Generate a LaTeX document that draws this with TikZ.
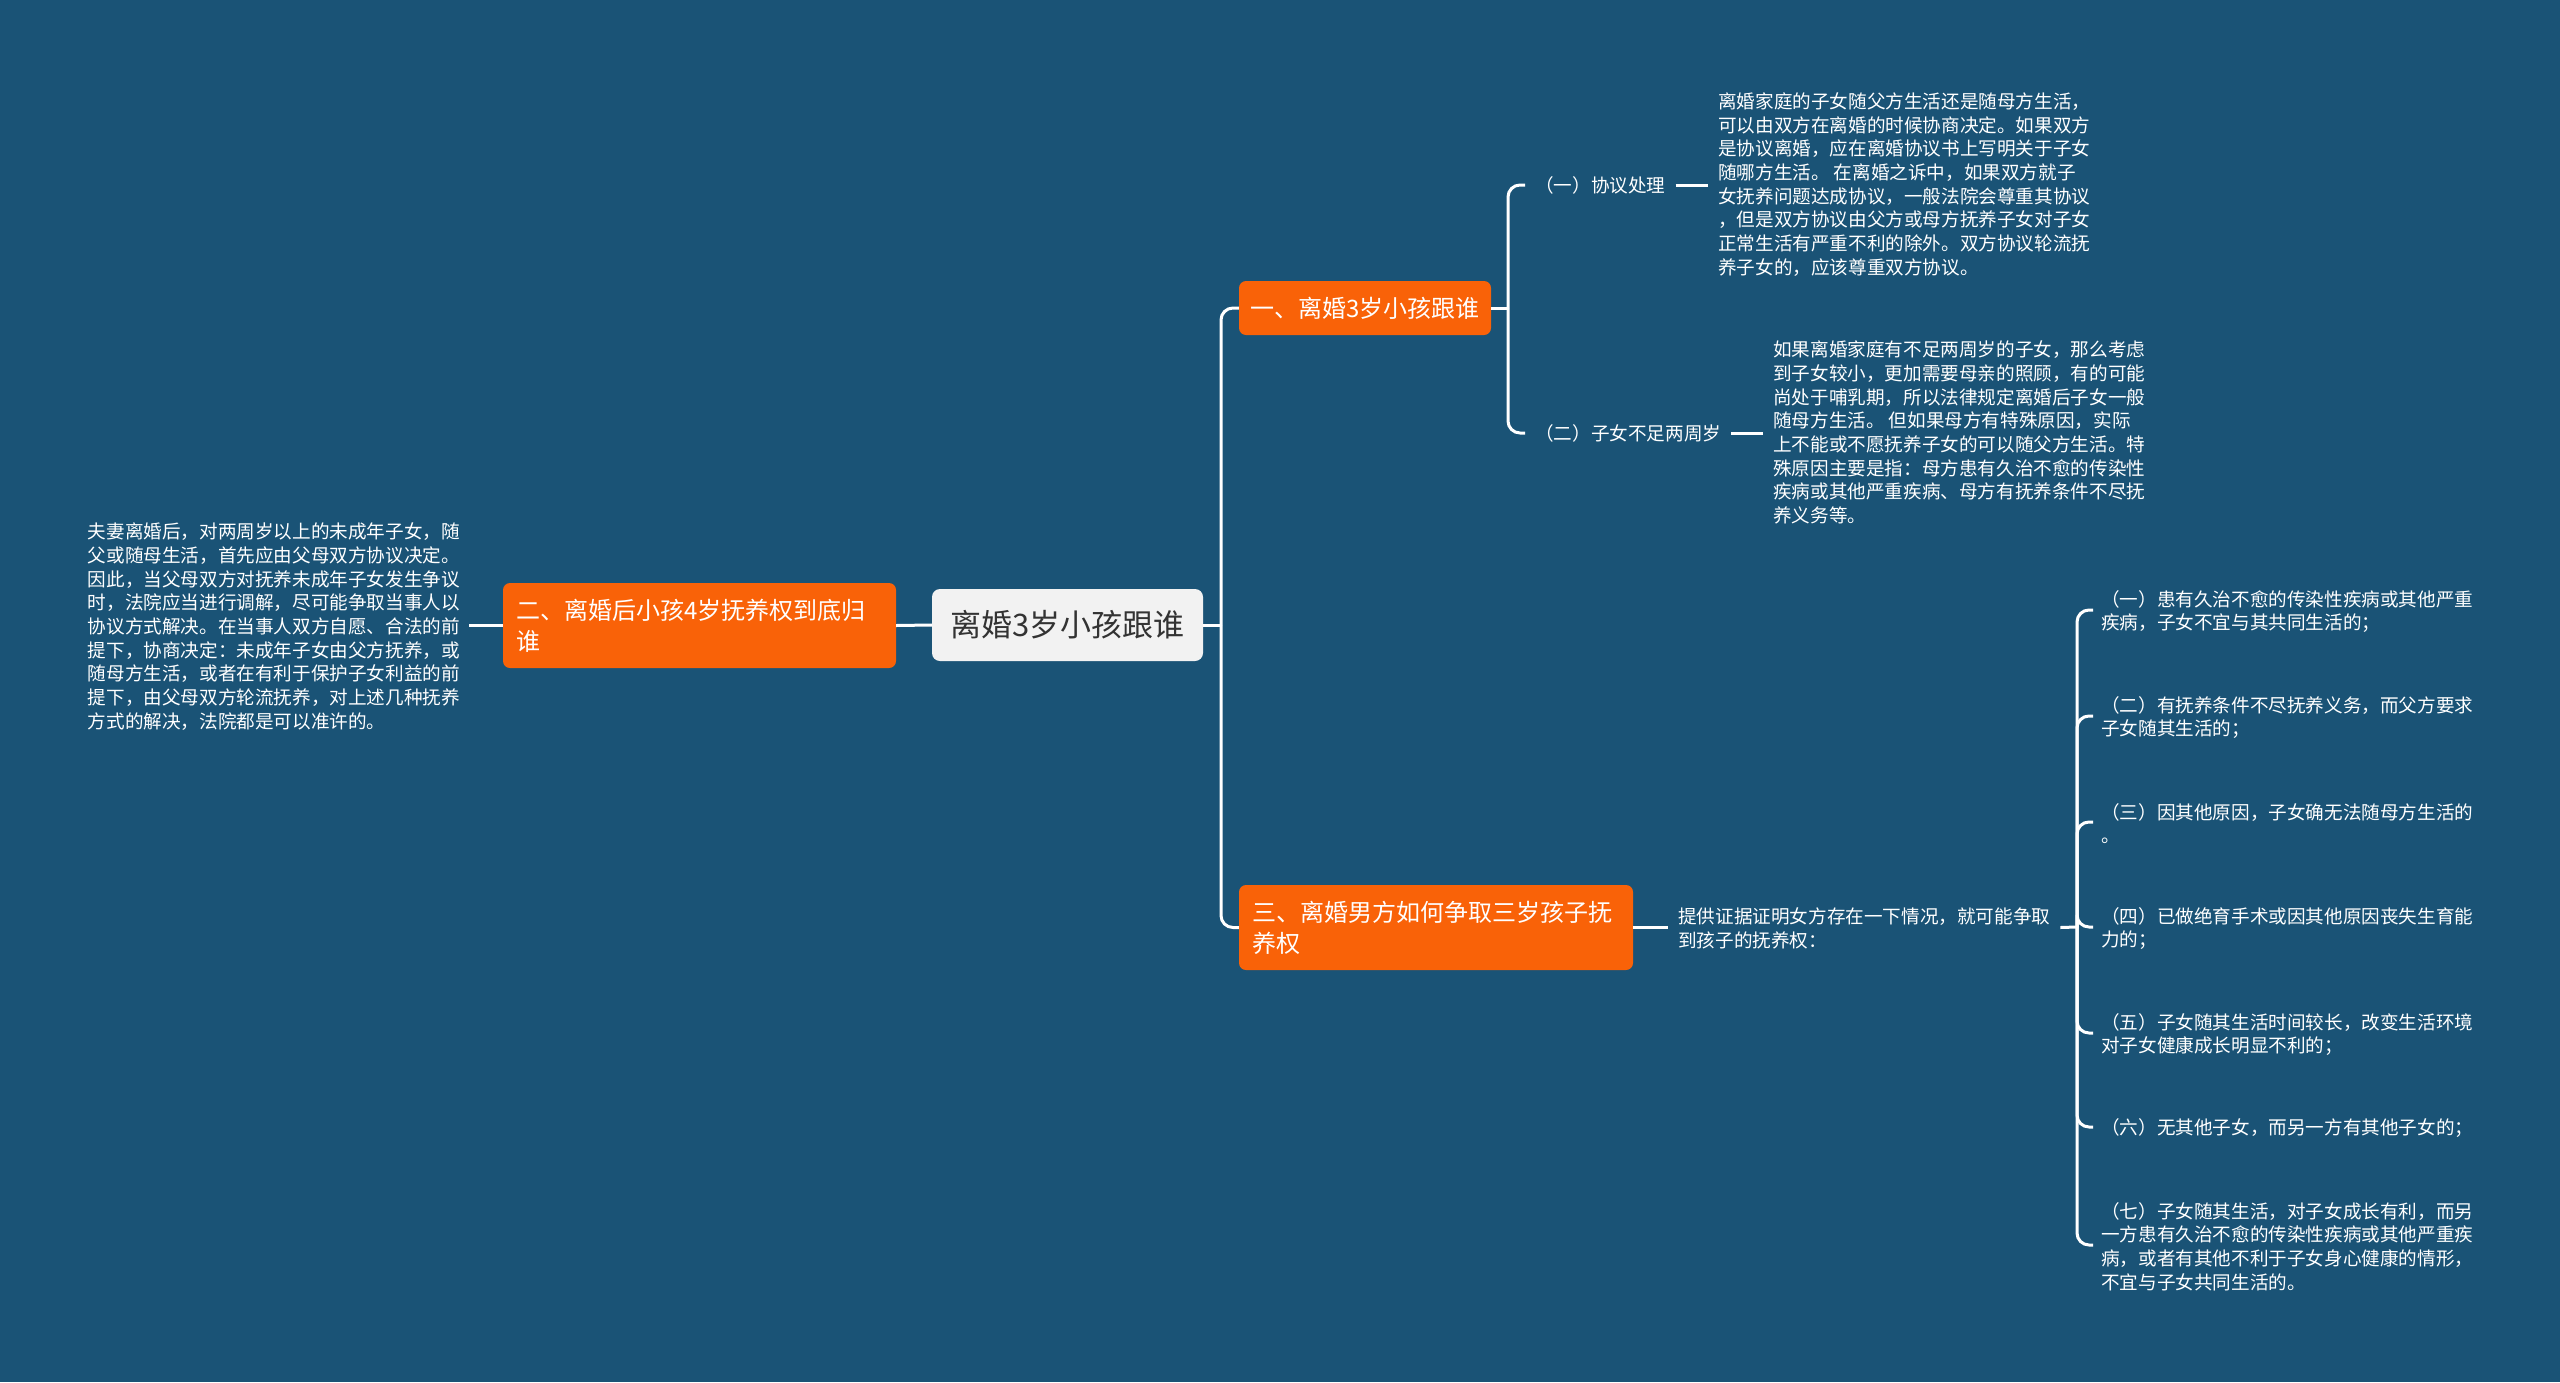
\documentclass[tikz,border=0pt]{standalone}
\usepackage{fontspec}
\setmainfont{Noto Sans CJK SC}
\definecolor{bgblue}{RGB}{26,83,118}
\definecolor{topicorange}{RGB}{249,98,8}
\definecolor{rootgray}{RGB}{242,242,242}
\definecolor{rootdark}{RGB}{51,51,51}
\tikzset{
  conn/.style={draw=white, line width=3pt, rounded corners=12pt},
  rootbox/.style={fill=rootgray, rounded corners=8pt, text=rootdark, font=\fontsize{31pt}{36pt}\selectfont, minimum width=271pt, minimum height=72pt, inner sep=0pt},
  topic/.style={fill=topicorange, rounded corners=7pt, text=white, font=\fontsize{24pt}{31pt}\selectfont, align=left, inner xsep=13pt, inner ysep=0pt},
  leaf/.style={text=white, font=\fontsize{18.6pt}{23.7pt}\selectfont, align=left, inner ysep=0pt},
}
\begin{document}
\begin{tikzpicture}[x=1pt,y=-1pt]
\fill[bgblue] (0,0) rectangle (2560,1382);
\useasboundingbox (0,0) rectangle (2560,1382);

% root
\node[rootbox] (root) at (1067.5,625) {离婚3岁小孩跟谁};

% main topics
\node[topic, text width=230pt, inner xsep=11pt, minimum height=54pt] (b1) at (1365,308) {一、离婚3岁小孩跟谁};
\node[topic, text width=367pt, minimum height=85pt] (b2) at (699.5,625.5) {二、离婚后小孩4岁抚养权到底归\\谁};
\node[topic, text width=368pt, minimum height=85pt] (b3) at (1436,927.5) {三、离婚男方如何争取三岁孩子抚\\养权};

% left branch text
\node[leaf, anchor=east, inner xsep=9pt] (t2) at (469,626.5) {夫妻离婚后，对两周岁以上的未成年子女，随\\父或随母生活，首先应由父母双方协议决定。\\因此，当父母双方对抚养未成年子女发生争议\\时，法院应当进行调解，尽可能争取当事人以\\协议方式解决。在当事人双方自愿、合法的前\\提下，协商决定：未成年子女由父方抚养，或\\随母方生活，或者在有利于保护子女利益的前\\提下，由父母双方轮流抚养，对上述几种抚养\\方式的解决，法院都是可以准许的。};

% branch 1 children
\node[leaf, anchor=west, inner xsep=10pt] (c1) at (1525,185) {（一）协议处理};
\node[leaf, anchor=west, inner xsep=10pt] (c2) at (1525,433) {（二）子女不足两周岁};
\node[leaf, anchor=west, inner xsep=10pt] (t11) at (1708,184.5) {离婚家庭的子女随父方生活还是随母方生活，\\可以由双方在离婚的时候协商决定。如果双方\\是协议离婚，应在离婚协议书上写明关于子女\\随哪方生活。 在离婚之诉中，如果双方就子\\女抚养问题达成协议，一般法院会尊重其协议\\，但是双方协议由父方或母方抚养子女对子女\\正常生活有严重不利的除外。双方协议轮流抚\\养子女的，应该尊重双方协议。};
\node[leaf, anchor=west, inner xsep=10pt] (t12) at (1763,432.5) {如果离婚家庭有不足两周岁的子女，那么考虑\\到子女较小，更加需要母亲的照顾，有的可能\\尚处于哺乳期，所以法律规定离婚后子女一般\\随母方生活。 但如果母方有特殊原因，实际\\上不能或不愿抚养子女的可以随父方生活。特\\殊原因主要是指：母方患有久治不愈的传染性\\疾病或其他严重疾病、母方有抚养条件不尽抚\\养义务等。};

% branch 3 children
\node[leaf, anchor=west, inner xsep=10pt] (t3) at (1668,928.5) {提供证据证明女方存在一下情况，就可能争取\\到孩子的抚养权：};
\node[leaf, anchor=west, inner xsep=8pt] (d1) at (2093,611.5) {（一）患有久治不愈的传染性疾病或其他严重\\疾病，子女不宜与其共同生活的；};
\node[leaf, anchor=west, inner xsep=8pt] (d2) at (2093,717.5) {（二）有抚养条件不尽抚养义务，而父方要求\\子女随其生活的；};
\node[leaf, anchor=west, inner xsep=8pt] (d3) at (2093,823.5) {（三）因其他原因，子女确无法随母方生活的\\。};
\node[leaf, anchor=west, inner xsep=8pt] (d4) at (2093,928.5) {（四）已做绝育手术或因其他原因丧失生育能\\力的；};
\node[leaf, anchor=west, inner xsep=8pt] (d5) at (2093,1034.5) {（五）子女随其生活时间较长，改变生活环境\\对子女健康成长明显不利的；};
\node[leaf, anchor=west, inner xsep=8pt] (d6) at (2093,1128.5) {（六）无其他子女，而另一方有其他子女的；};
\node[leaf, anchor=west, inner xsep=8pt] (d7) at (2093,1246.5) {（七）子女随其生活，对子女成长有利，而另\\一方患有久治不愈的传染性疾病或其他严重疾\\病，或者有其他不利于子女身心健康的情形，\\不宜与子女共同生活的。};

% junction coordinates
\coordinate (jr) at (1221,625);
\coordinate (j1) at (1508,308);
\coordinate (j3) at (2077,927);

% connectors
\draw[conn] (root.west) -- (b2.east);
\draw[conn] (b2.west) -- (b2.west -| t2.east);
\draw[conn] (root.east) -- (jr);
\draw[conn] (jr) |- (b1.west);
\draw[conn] (jr) |- (b3.west);

\draw[conn] (b1.east) -- (j1);
\draw[conn] (j1) |- (c1.west);
\draw[conn] (j1) |- (c2.west);
\draw[conn] (c1.east) -- (c1.east -| t11.west);
\draw[conn] (c2.east) -- (c2.east -| t12.west);

\draw[conn] (b3.east) -- (b3.east -| t3.west);
\draw[conn] (b3.east -| t3.east) -- (j3);
\foreach \d/\y in {d1/610,d2/716,d3/822,d4/927,d5/1033,d6/1127,d7/1245}{
  \draw[conn] (j3) |- (\d.west |- 0,\y);
}
\end{tikzpicture}
\end{document}
